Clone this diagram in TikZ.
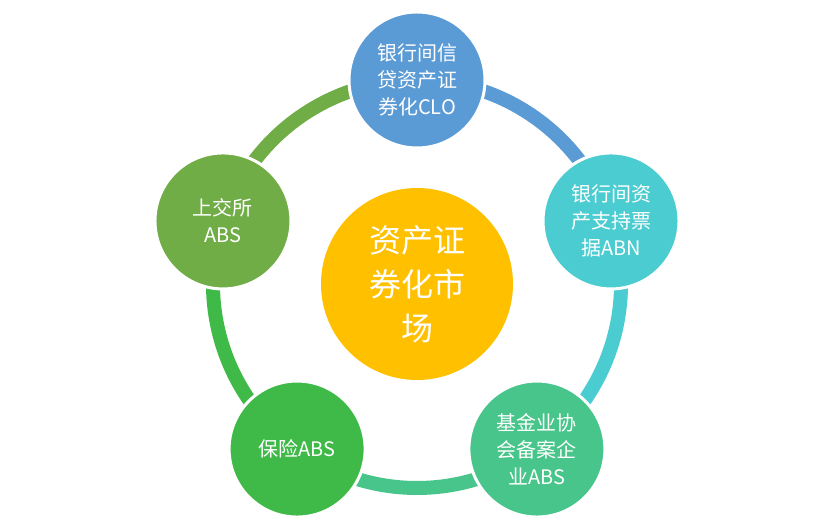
\documentclass[tikz,border=0pt]{standalone}
\usepackage{fontspec}
\newfontfamily\cjk{Noto Sans CJK SC}
\begin{document}
\begin{tikzpicture}[x=1pt,y=1pt,
  sat/.style={circle,minimum size=136pt,draw=white,line width=3pt,text=white,align=center,font=\cjk\fontsize{20}{27}\selectfont,inner sep=0pt},
  ring/.style={line width=14pt}]
\useasboundingbox (0,0) rectangle (828,532);
\definecolor{cA}{HTML}{5B9BD5}
\definecolor{cB}{HTML}{4BCCD0}
\definecolor{cC}{HTML}{47C58A}
\definecolor{cD}{HTML}{3FBA48}
\definecolor{cE}{HTML}{70AD47}
\definecolor{cF}{HTML}{FFC000}
\coordinate (c) at (417,248);
\draw[ring,cA] ([shift={(90:204pt)}]c) arc (90:18:204pt);
\draw[ring,cB] ([shift={(18:204pt)}]c) arc (18:-54:204pt);
\draw[ring,cC] ([shift={(-54:204pt)}]c) arc (-54:-126:204pt);
\draw[ring,cD] ([shift={(-126:204pt)}]c) arc (-126:-198:204pt);
\draw[ring,cE] ([shift={(162:204pt)}]c) arc (162:90:204pt);
\node[circle,minimum size=192pt,fill=cF,text=white,align=center,inner sep=0pt,font=\cjk\fontsize{32}{44}\selectfont] (m) at (c) {资产证\\券化市\\场};
\node[sat,fill=cA] (a) at ([shift={(90:204pt)}]c) {银行间信\\贷资产证\\券化CLO};
\node[sat,fill=cB] (b) at ([shift={(18:204pt)}]c) {银行间资\\产支持票\\据ABN};
\node[sat,fill=cC] (d) at ([shift={(-54:204pt)}]c) {基金业协\\会备案企\\业ABS};
\node[sat,fill=cD] (e) at ([shift={(-126:204pt)}]c) {保险ABS};
\node[sat,fill=cE] (f) at ([shift={(162:204pt)}]c) {上交所\\ABS};
\end{tikzpicture}
\end{document}
